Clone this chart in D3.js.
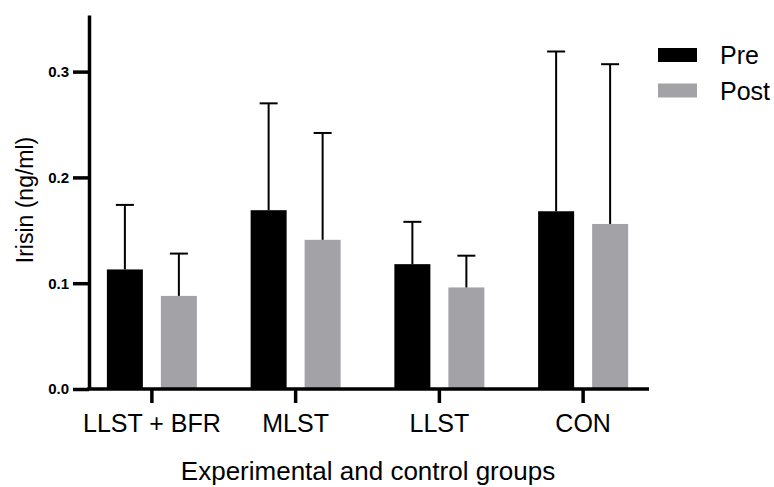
<!DOCTYPE html>
<html>
<head>
<meta charset="utf-8">
<script src="https://cdn.jsdelivr.net/npm/d3@7"></script>
<style>
  body { margin: 0; background: #fff; }
  text { font-family: "Liberation Sans", Arial, Helvetica, sans-serif; fill: #000; }
</style>
</head>
<body>
<div id="chart"></div>
<script>
// data
var groups = ["LLST + BFR", "MLST", "LLST", "CON"];
var series = ["Pre", "Post"];
var preMean = [0.113, 0.169, 0.118, 0.168];
var preSD = [0.061, 0.101, 0.040, 0.151];
var postMean = [0.088, 0.141, 0.096, 0.156];
var postSD = [0.040, 0.101, 0.030, 0.151];
var yTicks = [0, 0.1, 0.2, 0.3];

var colors = { Pre: "#000000", Post: "#a3a2a7" };

var svgWidth = 774;
var svgHeight = 487;

var svg = d3.select("#chart")
  .append("svg")
  .attr("width", svgWidth)
  .attr("height", svgHeight);

// scales
var x0 = d3.scaleBand()
  .domain(groups)
  .range([80, 655]);

var x1 = d3.scaleBand()
  .domain(series)
  .range([-45, 45])
  .paddingInner(1 / 3);

var y = d3.scaleLinear()
  .domain([0, 0.3535])
  .range([389, 15]);

// build rows for bars
var rows = [];
groups.forEach(function(g, i) {
  rows.push({ group: g, key: "Pre", mean: preMean[i], sd: preSD[i] });
  rows.push({ group: g, key: "Post", mean: postMean[i], sd: postSD[i] });
});

function cx(d) {
  return x0(d.group) + x0.bandwidth() / 2 + x1(d.key);
}

// bars
svg.append("g")
  .selectAll("rect")
  .data(rows)
  .enter()
  .append("rect")
  .attr("x", d => cx(d))
  .attr("width", x1.bandwidth())
  .attr("y", d => y(d.mean))
  .attr("height", d => y(0) - y(d.mean))
  .attr("fill", d => colors[d.key]);

// error bars (upper only)
var err = svg.append("g")
  .attr("stroke", "#000")
  .attr("stroke-width", 2);

err.selectAll("line.stem")
  .data(rows)
  .enter()
  .append("line")
  .attr("class", "stem")
  .attr("x1", d => cx(d) + x1.bandwidth() / 2)
  .attr("x2", d => cx(d) + x1.bandwidth() / 2)
  .attr("y1", d => y(d.mean))
  .attr("y2", d => y(d.mean + d.sd));

err.selectAll("line.cap")
  .data(rows)
  .enter()
  .append("line")
  .attr("class", "cap")
  .attr("x1", d => cx(d) + x1.bandwidth() / 2 - 9)
  .attr("x2", d => cx(d) + x1.bandwidth() / 2 + 9)
  .attr("y1", d => y(d.mean + d.sd))
  .attr("y2", d => y(d.mean + d.sd));

// y axis
var yAxis = svg.append("g")
  .attr("transform", "translate(89,0)")
  .call(d3.axisLeft(y)
    .tickValues(yTicks)
    .tickFormat(d3.format(".1f"))
    .tickSize(16)
    .tickSizeOuter(0)
    .tickPadding(4));

yAxis.select(".domain").attr("stroke-width", 3.5);
yAxis.selectAll(".tick line").attr("stroke-width", 3.5);
yAxis.selectAll(".tick text")
  .style("font-size", "15px")
  .style("font-weight", "bold");

// x axis
var xAxis = svg.append("g")
  .attr("transform", "translate(0,389)")
  .call(d3.axisBottom(x0).tickSize(14).tickSizeOuter(0));

xAxis.select(".domain").remove();
xAxis.selectAll(".tick line").attr("stroke-width", 3.5);
xAxis.selectAll(".tick text")
  .style("font-size", "25px")
  .attr("y", 43)
  .attr("dy", 0);

svg.append("line")
  .attr("x1", 87.25)
  .attr("x2", 649)
  .attr("y1", y(0))
  .attr("y2", y(0))
  .attr("stroke", "#000")
  .attr("stroke-width", 3.5);

// axis titles
svg.append("text")
  .attr("transform", "rotate(-90)")
  .attr("x", -200)
  .attr("y", 33)
  .attr("text-anchor", "middle")
  .style("font-size", "23px")
  .text("Irisin (ng/ml)");

svg.append("text")
  .attr("x", 368)
  .attr("y", 480)
  .attr("text-anchor", "middle")
  .style("font-size", "26px")
  .text("Experimental and control groups");

// legend
var legend = svg.append("g")
  .attr("transform", "translate(658,48)");

var items = legend.selectAll("g")
  .data(series)
  .enter()
  .append("g")
  .attr("transform", (d, i) => `translate(0, ${i * 35.5})`);

items.append("rect")
  .attr("width", 39)
  .attr("height", 14)
  .attr("fill", d => colors[d]);

items.append("text")
  .attr("x", 62)
  .attr("y", 16)
  .style("font-size", "25px")
  .text(d => d);
</script>
</body>
</html>
